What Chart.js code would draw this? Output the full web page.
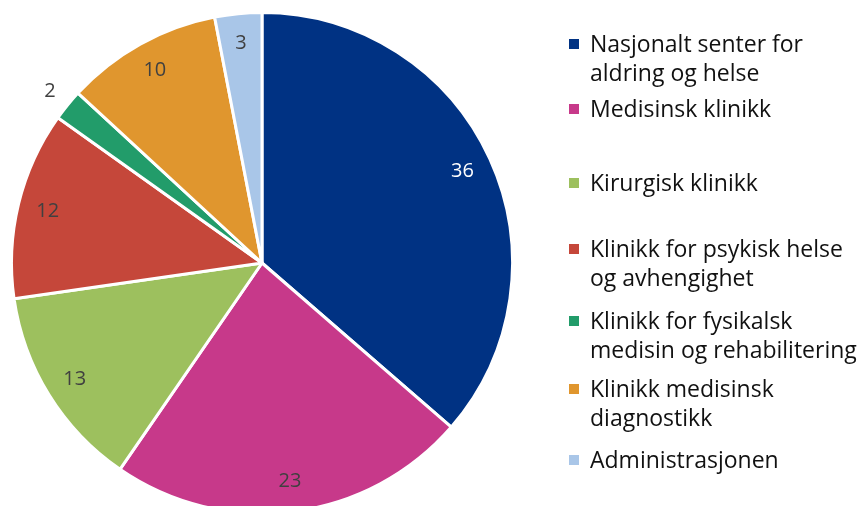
<!DOCTYPE html>
<html>
<head>
<meta charset="utf-8">
<script src="https://cdn.jsdelivr.net/npm/chart.js@4/dist/chart.umd.min.js"></script>
<style>
  html, body { margin: 0; padding: 0; background: #fff; }
  #wrap { position: relative; width: 860px; height: 506px; overflow: hidden; }
  #chartBox { position: absolute; left: 0; top: 0; width: 860px; height: 526px; }
  #legend { position: absolute; left: 0; top: 0; width: 860px; height: 506px; pointer-events: none;
            font-family: "Open Sans", sans-serif; font-size: 23px; color: #111; }
  .item { position: absolute; left: 569px; }
  .swatch { position: absolute; left: 0; width: 10px; height: 10px; }
  .text { position: absolute; left: 21px; white-space: nowrap; line-height: 29px; }
</style>
</head>
<body>
<div id="wrap">
  <div id="chartBox"><canvas id="pie"></canvas></div>
  <div id="legend"></div>
</div>
<script>
const labels = [
  ['Nasjonalt senter for', 'aldring og helse'],
  ['Medisinsk klinikk'],
  ['Kirurgisk klinikk'],
  ['Klinikk for psykisk helse', 'og avhengighet'],
  ['Klinikk for fysikalsk', 'medisin og rehabilitering'],
  ['Klinikk medisinsk', 'diagnostikk'],
  ['Administrasjonen']
];
const values = [36, 23, 13, 12, 2, 10, 3];
const colors = ['#003283', '#C7398A', '#9DC05E', '#C5473A', '#229C6A', '#E0962E', '#A9C6E8'];

// vertical centre of the first line of each legend entry
const legendTops = [43, 108, 182, 248, 320, 388, 459];

const legendEl = document.getElementById('legend');
labels.forEach((lines, i) => {
    const item = document.createElement('div');
    item.className = 'item';
    item.style.top = (legendTops[i] - 14.5) + 'px';
    const sw = document.createElement('div');
    sw.className = 'swatch';
    sw.style.background = colors[i];
    sw.style.top = '10px';
    const tx = document.createElement('div');
    tx.className = 'text';
    tx.innerHTML = lines.join('<br>');
    item.appendChild(sw);
    item.appendChild(tx);
    legendEl.appendChild(item);
});

const valueLabels = {
    id: 'valueLabels',
    afterDatasetsDraw(chart) {
        const ctx = chart.ctx;
        const meta = chart.getDatasetMeta(0);
        ctx.save();
        ctx.font = '20px "Open Sans", sans-serif';
        ctx.textAlign = 'center';
        ctx.textBaseline = 'middle';
        meta.data.forEach((arc, i) => {
            const mid = (arc.startAngle + arc.endAngle) / 2;
            const outside = values[i] < 3;
            const r = arc.outerRadius * (outside ? 1.09 : 0.88);
            const x = arc.x + Math.cos(mid) * r;
            const y = arc.y + Math.sin(mid) * r;
            ctx.fillStyle = i === 0 ? '#ffffff' : '#404040';
            ctx.fillText(String(values[i]), x, y);
        });
        ctx.restore();
    }
};

new Chart(document.getElementById('pie').getContext('2d'), {
    type: 'pie',
    data: {
        labels: labels.map(l => l.join(' ')),
        datasets: [{
            data: values,
            backgroundColor: colors,
            borderColor: '#ffffff',
            borderWidth: 3
        }]
    },
    options: {
        responsive: true,
        maintainAspectRatio: false,
        animation: false,
        layout: { padding: { left: 10, right: 346, top: 11, bottom: 11 } },
        plugins: {
            legend: { display: false },
            tooltip: { enabled: false }
        }
    },
    plugins: [valueLabels]
});
</script>
</body>
</html>
